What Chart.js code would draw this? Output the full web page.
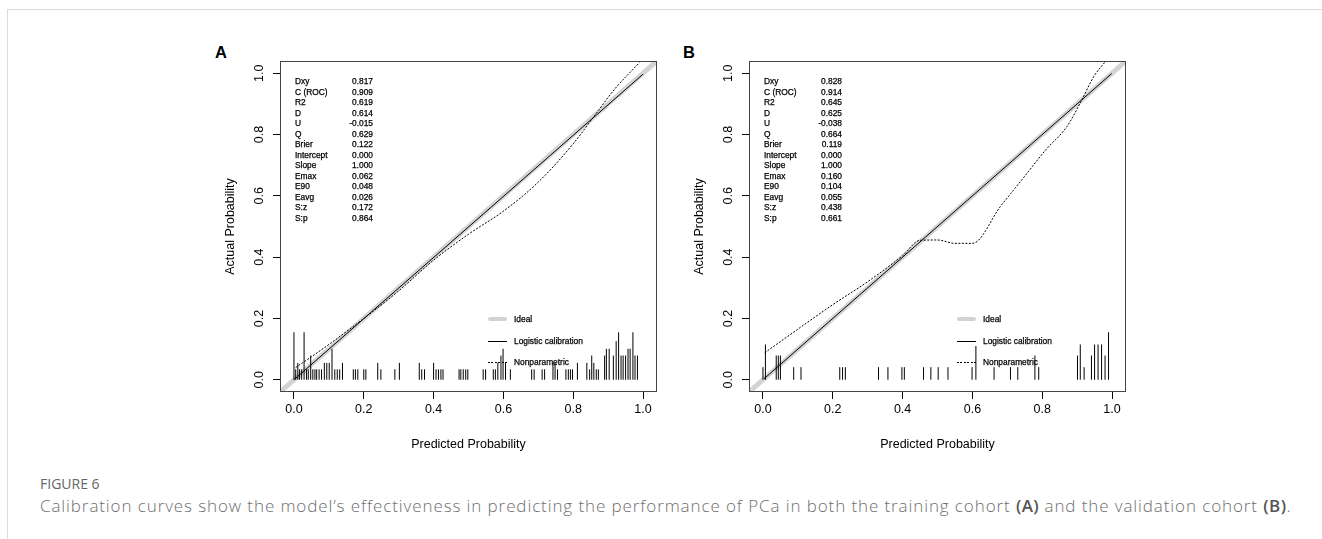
<!DOCTYPE html>
<html lang="en">
<head>
<meta charset="UTF-8" />
<title>Figure 6 - calibration curves</title>
<script src="https://cdn.jsdelivr.net/npm/chart.js@4.4.1/dist/chart.umd.min.js"></script>
<style>
  body { margin: 0; width: 1322px; height: 539px; background: #fff; position: relative; overflow: hidden;
         font-family: "Liberation Sans", Arial, sans-serif; color: #000; }
  .frame { position: absolute; left: 7px; top: 9px; right: -2px; bottom: -2px;
           border-top: 1px solid #dcdcdc; border-left: 1px solid #dcdcdc; }
  canvas { position: absolute; top: 40px; }
  #chartA { left: 210px; }
  #chartB { left: 679px; }
  .tag { position: absolute; top: 44px; font-weight: bold; font-size: 16.5px; line-height: 16px; }
  .stats { position: absolute; top: 76px; width: 78px; font-size: 8.4px; line-height: 10.5px;
           -webkit-text-stroke: 0.25px #000; }
  .stats div { display: flex; justify-content: space-between; white-space: nowrap; }
  .legend { position: absolute; font-size: 8.4px; -webkit-text-stroke: 0.25px #000; }
  .legend div { position: absolute; left: 0; height: 10px; line-height: 10px; white-space: nowrap; }
  .legend i { position: absolute; left: 0; top: 5px; width: 19px; }
  .legend span { position: absolute; left: 26px; top: 0; }
  .sw-ideal { height: 4px; margin-top: -2px; background: #d3d3d3; border-radius: 2px; }
  .sw-logit { height: 1px; background: #000; }
  .sw-np { height: 1px; background: repeating-linear-gradient(90deg, #000 0 2px, transparent 2px 3.5px); }
  .caphead { position: absolute; left: 40px; top: 474px; font-family: "Open Sans", sans-serif;
             font-size: 14px; color: #666; }
  .cap { position: absolute; left: 40px; top: 494px; font-family: "Open Sans", sans-serif;
         font-size: 17px; letter-spacing: 0.9px; color: #6e6e6e; white-space: nowrap; font-weight: 300; }
  .cap b { color: #555; font-weight: 600; letter-spacing: 0.4px; }
</style>
</head>
<body>
<div class="frame"></div>

<div class="tag" style="left:215px">A</div>
<div class="tag" style="left:683px">B</div>

<canvas id="chartA" width="470" height="430"></canvas>
<canvas id="chartB" width="470" height="430"></canvas>

<div class="stats" id="statsA" style="left:295px"></div>
<div class="stats" id="statsB" style="left:764px"></div>

<div class="legend" style="left:488px; top:314px">
  <div style="top:0"><i class="sw-ideal"></i><span>Ideal</span></div>
  <div style="top:22px"><i class="sw-logit"></i><span>Logistic calibration</span></div>
  <div style="top:43px"><i class="sw-np"></i><span>Nonparametric</span></div>
</div>
<div class="legend" style="left:957px; top:314px">
  <div style="top:0"><i class="sw-ideal"></i><span>Ideal</span></div>
  <div style="top:22px"><i class="sw-logit"></i><span>Logistic calibration</span></div>
  <div style="top:43px"><i class="sw-np"></i><span>Nonparametric</span></div>
</div>

<div class="caphead">FIGURE 6</div>
<div class="cap">Calibration curves show the model’s effectiveness in predicting the performance of PCa in both the training cohort <b>(A)</b> and the validation cohort <b>(B)</b>.</div>

<script>
// axis ticks
const xTicks = [0, 0.2, 0.4, 0.6, 0.8, 1.0];
const yTicks = [0, 0.2, 0.4, 0.6, 0.8, 1.0];

// statistics printed in each panel
const statNames = ["Dxy", "C (ROC)", "R2", "D", "U", "Q", "Brier", "Intercept", "Slope", "Emax", "E90", "Eavg", "S:z", "S:p"];
const statsA = ["0.817", "0.909", "0.619", "0.614", "-0.015", "0.629", "0.122", "0.000", "1.000", "0.062", "0.048", "0.026", "0.172", "0.864"];
const statsB = ["0.828", "0.914", "0.645", "0.625", "-0.038", "0.664", "0.119", "0.000", "1.000", "0.160", "0.104", "0.055", "0.438", "0.661"];

// ideal line
const idealX = [-0.04, 1.04];
const idealY = [-0.04, 1.04];

// logistic calibration
const logitXA = [0.0, 1.0];
const logitYA = [0.0, 0.997];
const logitXB = [0.003, 0.999];
const logitYB = [0.003, 0.999];

// nonparametric (lowess) curves
const npXA = [0.005, 0.05, 0.1, 0.2, 0.3, 0.4, 0.5, 0.6, 0.7, 0.8, 0.86, 0.92, 0.99];
const npYA = [0.04, 0.075, 0.115, 0.2, 0.29, 0.39, 0.475, 0.55, 0.645, 0.77, 0.86, 0.95, 1.035];
const npXB = [0.005, 0.1, 0.2, 0.3, 0.4, 0.45, 0.5, 0.55, 0.6, 0.68, 0.74, 0.81, 0.87, 0.913, 0.947, 0.98];
const npYB = [0.088, 0.165, 0.245, 0.32, 0.405, 0.455, 0.456, 0.445, 0.445, 0.565, 0.65, 0.75, 0.825, 0.912, 0.988, 1.037];

// distribution of predicted risk (rug spikes)
const rugXA = [0.0, 0.005, 0.011, 0.016, 0.022, 0.029, 0.036, 0.041, 0.048, 0.054, 0.06, 0.065, 0.072, 0.079,
  0.087, 0.094, 0.101, 0.109, 0.117, 0.124, 0.131, 0.139, 0.17, 0.176, 0.183, 0.2, 0.206, 0.24, 0.249, 0.289,
  0.302, 0.359, 0.366, 0.374, 0.4, 0.407, 0.414, 0.421, 0.427, 0.473, 0.478, 0.485, 0.492, 0.498, 0.542, 0.549,
  0.571, 0.577, 0.584, 0.593, 0.599, 0.606, 0.62, 0.681, 0.688, 0.711, 0.718, 0.742, 0.748, 0.755, 0.779, 0.786,
  0.792, 0.798, 0.812, 0.839, 0.847, 0.853, 0.859, 0.866, 0.872, 0.89, 0.895, 0.903, 0.915, 0.923, 0.93, 0.937,
  0.943, 0.95, 0.957, 0.963, 0.971, 0.977, 0.984];
const rugHA = [0.155, 0.034, 0.055, 0.034, 0.034, 0.155, 0.034, 0.034, 0.079, 0.034, 0.034, 0.034, 0.034, 0.034,
  0.055, 0.055, 0.055, 0.101, 0.034, 0.034, 0.034, 0.055, 0.034, 0.034, 0.034, 0.034, 0.034, 0.055, 0.034, 0.034,
  0.055, 0.055, 0.034, 0.034, 0.055, 0.034, 0.034, 0.034, 0.034, 0.034, 0.034, 0.034, 0.034, 0.034, 0.034, 0.034,
  0.034, 0.034, 0.055, 0.079, 0.101, 0.055, 0.034, 0.034, 0.034, 0.034, 0.034, 0.055, 0.055, 0.034, 0.034, 0.034,
  0.034, 0.034, 0.055, 0.055, 0.034, 0.079, 0.055, 0.034, 0.034, 0.079, 0.101, 0.101, 0.079, 0.126, 0.155, 0.079,
  0.079, 0.079, 0.101, 0.101, 0.155, 0.079, 0.079];
const rugXB = [0.0, 0.007, 0.038, 0.044, 0.05, 0.088, 0.109, 0.22, 0.228, 0.236, 0.331, 0.358, 0.398, 0.405,
  0.46, 0.481, 0.502, 0.53, 0.599, 0.61, 0.662, 0.709, 0.73, 0.779, 0.79, 0.901, 0.909, 0.92, 0.941, 0.95, 0.96,
  0.97, 0.98, 0.99];
const rugHB = [0.041, 0.115, 0.079, 0.079, 0.079, 0.041, 0.041, 0.041, 0.041, 0.041, 0.041, 0.041, 0.041, 0.041,
  0.041, 0.041, 0.041, 0.041, 0.041, 0.11, 0.041, 0.041, 0.041, 0.079, 0.041, 0.079, 0.115, 0.041, 0.079, 0.115,
  0.115, 0.115, 0.079, 0.155];

const FONT = "'Liberation Sans', Arial, sans-serif";

function fillStats(id, values) {
  document.getElementById(id).innerHTML = statNames
    .map((n, i) => "<div><span>" + n + "</span><span>" + values[i] + "</span></div>")
    .join("");
}
fillStats("statsA", statsA);
fillStats("statsB", statsB);

function toPoints(xs, ys) {
  return xs.map((x, i) => ({ x: x, y: ys[i] }));
}

// each spike: from 0 up to its height, then a gap
function rugPoints(xs, hs) {
  const pts = [];
  xs.forEach((x, i) => { pts.push({ x: x, y: 0 }, { x: x, y: hs[i] }, { x: x, y: null }); });
  return pts;
}

const boxPlugin = {
  id: "box",
  afterDraw(chart) {
    const a = chart.chartArea;
    const ctx = chart.ctx;
    ctx.save();
    ctx.strokeStyle = "#444";
    ctx.lineWidth = 1;
    ctx.strokeRect(Math.round(a.left) + 0.5, Math.round(a.top) + 0.5,
      Math.round(a.right - a.left) - 1, Math.round(a.bottom - a.top) - 1);
    ctx.restore();
  }
};

function axis(ticks, isX) {
  const s = {
    type: "linear",
    min: -0.04,
    max: 1.04,
    afterBuildTicks: sc => { sc.ticks = ticks.map(v => ({ value: v })); },
    grid: { drawOnChartArea: false, drawTicks: true, tickLength: 7, color: "#000", lineWidth: 1 },
    border: { display: false },
    ticks: {
      color: "#000",
      autoSkip: false,
      font: { family: FONT, size: 12.5 },
      callback: v => Number(v).toFixed(1)
    },
    title: { display: true, color: "#000", font: { family: FONT, size: 12.5 } }
  };
  if (isX) {
    s.afterFit = sc => { sc.height = 78; };
    s.ticks.padding = 3;
    s.ticks.maxRotation = 0;
    s.title.text = "Predicted Probability";
    s.title.padding = { top: 0, bottom: 18 };
  } else {
    s.afterFit = sc => { sc.width = 70; };
    s.ticks.padding = 5;
    s.ticks.minRotation = 90;
    s.ticks.maxRotation = 90;
    s.ticks.crossAlign = "center";
    s.title.text = "Actual Probability";
    s.title.padding = { top: 13, bottom: 0 };
  }
  return s;
}

function makePanel(id, logX, logY, npX, npY, rugX, rugH) {
  new Chart(document.getElementById(id), {
    type: "line",
    data: {
      datasets: [
        { label: "rug", data: rugPoints(rugX, rugH), borderColor: "#000", borderWidth: 1, spanGaps: false, clip: 0 },
        { label: "Logistic calibration", data: toPoints(logX, logY), borderColor: "#000", borderWidth: 1, clip: 0 },
        { label: "Nonparametric", data: toPoints(npX, npY), borderColor: "#000", borderWidth: 1,
          borderDash: [2, 1.5], cubicInterpolationMode: "monotone", clip: 0 },
        { label: "Ideal", data: toPoints(idealX, idealY), borderColor: "#d3d3d3", borderWidth: 5, clip: 0 }
      ]
    },
    options: {
      responsive: false,
      devicePixelRatio: 1,
      animation: false,
      elements: { point: { radius: 0 }, line: { tension: 0 } },
      layout: { padding: { top: 21, right: 23, bottom: 0, left: 0 } },
      plugins: { legend: { display: false }, tooltip: { enabled: false } },
      scales: { x: axis(xTicks, true), y: axis(yTicks, false) }
    },
    plugins: [boxPlugin]
  });
}

makePanel("chartA", logitXA, logitYA, npXA, npYA, rugXA, rugHA);
makePanel("chartB", logitXB, logitYB, npXB, npYB, rugXB, rugHB);
</script>
</body>
</html>
